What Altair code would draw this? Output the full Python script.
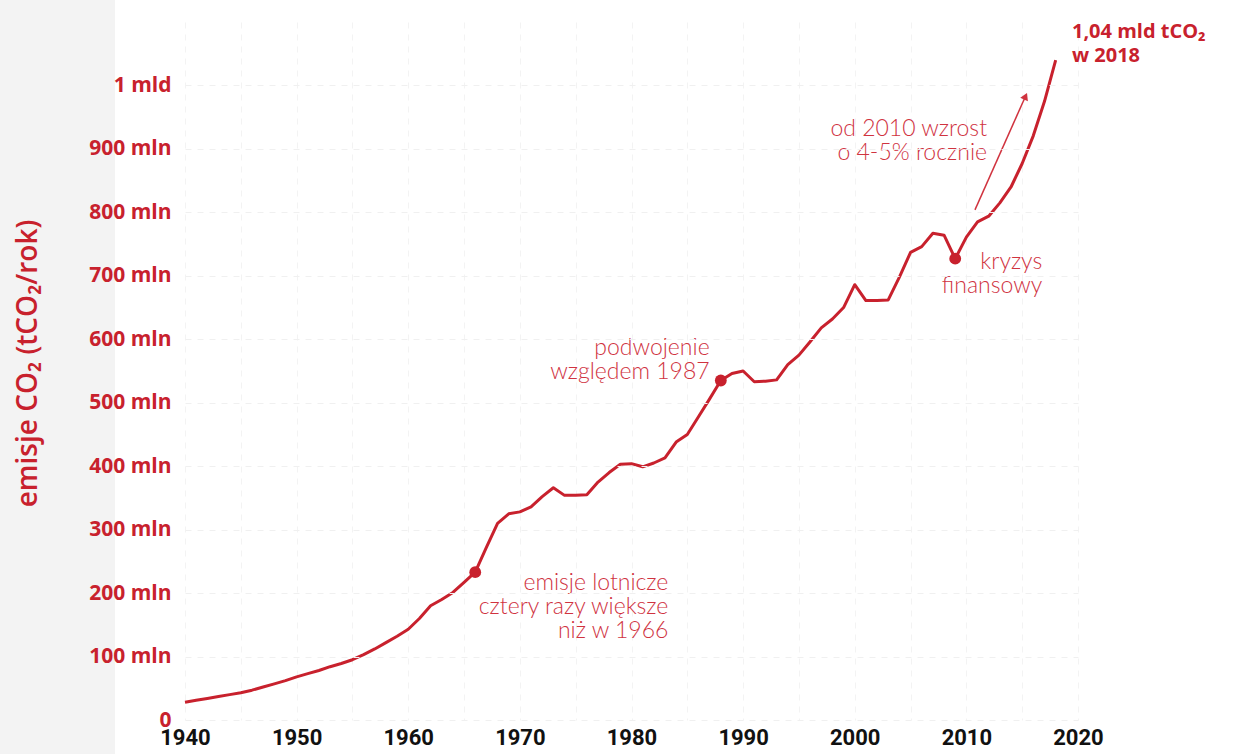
import altair as alt
import pandas as pd

# ---- data ----
years = list(range(1940, 2019))
emissions = [
    28, 31, 34, 37, 40, 43, 47, 52, 57, 62,          # 1940-1949
    68, 73, 78, 84, 89, 95, 103, 112, 122, 132,      # 1950-1959
    143, 160, 180, 190, 201, 217, 233, 272, 310, 325,  # 1960-1969
    328, 336, 352, 366, 354, 354, 355, 375, 390, 403,  # 1970-1979
    404, 399, 405, 413, 438, 450, 478, 506, 535, 546,  # 1980-1989
    550, 533, 534, 536, 560, 575, 596, 618, 632, 650,  # 1990-1999
    686, 661, 661, 662, 698, 737, 746, 767, 764, 727,  # 2000-2009
    761, 785, 794, 815, 840, 877, 921, 975, 1040,      # 2010-2018
]
highlight_years = [1966, 1988, 2009]

# annotation texts (one row per line of text)
ann_text = [
    "emisje lotnicze", "cztery razy większe", "niż w 1966",
    "podwojenie", "względem 1987",
    "kryzys", "finansowy",
    "od 2010 wzrost", "o 4-5% rocznie",
]
ann_x = [1983.3, 1983.3, 1983.3, 1987.0, 1987.0, 2016.8, 2016.8, 2011.85, 2011.85]
ann_y = [216, 178, 140, 586, 548, 722, 684, 931, 894]

bold_text = ["1,04 mld tCO₂", "w 2018"]
bold_x = [2019.46, 2019.46]
bold_y = [1084, 1046]

arrow_x, arrow_y, arrow_x2, arrow_y2 = 2010.77, 804, 2015.3, 983

y_ticks = [0, 100, 200, 300, 400, 500, 600, 700, 800, 900, 1000]
x_grid = list(range(1940, 2021, 5))

RED = "#c8212d"
RED_LIGHT = "#d0333f"

df = pd.DataFrame({"year": years, "value": emissions})
df_hi = df[df["year"].isin(highlight_years)]
df_ann = pd.DataFrame({"year": ann_x, "value": ann_y, "text": ann_text})
df_bold = pd.DataFrame({"year": bold_x, "value": bold_y, "text": bold_text})
df_arrow = pd.DataFrame({"year": [arrow_x], "value": [arrow_y],
                         "year2": [arrow_x2], "value2": [arrow_y2]})

xscale = alt.Scale(domain=[1940, 2020], nice=False, zero=False)
yscale = alt.Scale(domain=[0, 1100], nice=False)

x_axis = alt.Axis(
    values=x_grid,
    labelExpr="datum.value % 10 == 0 ? datum.label : ''",
    format="d",
    title=None,
    domain=False,
    ticks=False,
    labelFont="Roboto",
    labelFontSize=22,
    labelFontWeight="bold",
    labelColor="#111111",
    labelPadding=7,
    labelFlush=False,
    grid=True,
    gridColor="#f3f3f3",
    gridDash=[6, 6],
    gridWidth=1,
)
y_axis = alt.Axis(
    values=y_ticks,
    labelExpr="datum.value == 0 ? '0' : datum.value == 1000 ? '1 mld' : datum.value + ' mln'",
    title="emisje CO₂ (tCO₂/rok)",
    titleFont="Open Sans",
    titleFontSize=28,
    titleFontWeight=600,
    titleColor=RED,
    titleAngle=270,
    titleX=-157,
    titleY=341,
    titleAlign="center",
    titleBaseline="middle",
    domain=False,
    ticks=False,
    labelFont="Open Sans",
    labelFontSize=21,
    labelFontWeight="bold",
    labelColor=RED,
    labelPadding=14,
    grid=True,
    gridColor="#f0f0f0",
    gridDash=[6, 6],
    gridWidth=1,
    zindex=1,
)

base = alt.Chart(df)

strip = alt.Chart(pd.DataFrame({"a": [0]})).mark_rect(color="#f3f3f3").encode(
    x=alt.value(-185), x2=alt.value(-70), y=alt.value(-22), y2=alt.value(732)
)

line = base.mark_line(color=RED, strokeWidth=3, interpolate="linear",
                      strokeJoin="round").encode(
    x=alt.X("year:Q", scale=xscale, axis=x_axis),
    y=alt.Y("value:Q", scale=yscale, axis=y_axis),
)

dots = alt.Chart(df_hi).mark_circle(color=RED, size=140, opacity=1).encode(
    x=alt.X("year:Q", scale=xscale),
    y=alt.Y("value:Q", scale=yscale),
)

ann = alt.Chart(df_ann).mark_text(
    align="right", baseline="middle", font="Lato", fontSize=23,
    fontWeight=300, color=RED_LIGHT,
).encode(
    x=alt.X("year:Q", scale=xscale),
    y=alt.Y("value:Q", scale=yscale),
    text="text:N",
)

bold = alt.Chart(df_bold).mark_text(
    align="left", baseline="middle", font="Open Sans", fontSize=20,
    fontWeight="bold", color=RED,
).encode(
    x=alt.X("year:Q", scale=xscale),
    y=alt.Y("value:Q", scale=yscale),
    text="text:N",
)

arrow = alt.Chart(df_arrow).mark_rule(color=RED_LIGHT, strokeWidth=1.5).encode(
    x=alt.X("year:Q", scale=xscale),
    y=alt.Y("value:Q", scale=yscale),
    x2="year2:Q",
    y2="value2:Q",
)
arrow_head = alt.Chart(df_arrow).mark_point(
    shape="triangle-up", filled=True, size=70, angle=24, color=RED_LIGHT, opacity=1
).encode(
    x=alt.X("year2:Q", scale=xscale),
    y=alt.Y("value2:Q", scale=yscale),
)

chart = alt.layer(strip, line, dots, ann, bold, arrow, arrow_head).properties(
    width=893,
    height=698,
    autosize=alt.AutoSizeParams(type="none"),
    padding={"left": 185, "top": 22, "right": 158, "bottom": 34},
    background="white",
).configure_view(stroke=None)

chart.save("out.html", embed_options={"renderer": "svg", "actions": False})
